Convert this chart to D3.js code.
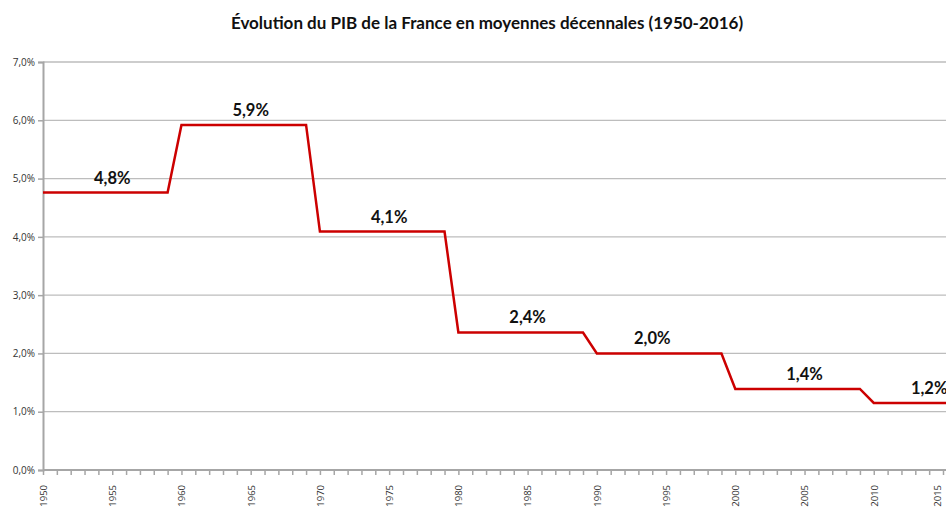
<!DOCTYPE html>
<html><head><meta charset="utf-8">
<script src="https://cdn.jsdelivr.net/npm/d3@7"></script>
<style>body{margin:0;background:#fff}svg{display:block}</style>
</head><body>
<script>
const title = "Évolution du PIB de la France en moyennes décennales (1950-2016)";
const decadeStarts = [1950, 1960, 1970, 1980, 1990, 2000, 2010];
const decadeEnds   = [1959, 1969, 1979, 1989, 1999, 2009, 2016];
const decadeValues = [4.76, 5.92, 4.09, 2.36, 2.00, 1.39, 1.15];
const labelTexts = ["4,8%", "5,9%", "4,1%", "2,4%", "2,0%", "1,4%", "1,2%"];
const labelYears = [1955, 1965, 1975, 1985, 1994, 2005, 2014];
const yTicks = [0, 1, 2, 3, 4, 5, 6, 7];
const xTickLabels = [1950, 1955, 1960, 1965, 1970, 1975, 1980, 1985, 1990, 1995, 2000, 2005, 2010, 2015];

// annual points: each year carries its decade average
const years = [], values = [];
decadeStarts.forEach((s, i) => { for (let y = s; y <= decadeEnds[i]; y++) { years.push(y); values.push(decadeValues[i]); } });

const W = 946, H = 509;
const svg = d3.select("body").append("svg").attr("width", W).attr("height", H);
const x = d3.scaleLinear().domain([1950, 2015]).range([43, 943]);
const y = d3.scaleLinear().domain([0, 7]).range([470, 62]);
const right = W;

svg.append("text").attr("x", 487).attr("y", 29).attr("text-anchor", "middle")
  .attr("font-family", "Lato, 'Open Sans', sans-serif").attr("font-weight", "bold").attr("font-size", 17)
  .attr("fill", "#111").text(title);

// gridlines
svg.append("g").selectAll("line").data(yTicks.filter(d => d > 0)).join("line")
  .attr("x1", x(1950)).attr("x2", right).attr("y1", d => y(d)).attr("y2", d => y(d))
  .attr("stroke", "#bdbdbd").attr("stroke-width", 1.3);

// y axis
const yAxis = svg.append("g").attr("transform", `translate(${x(1950)},0)`)
  .call(d3.axisLeft(y).tickValues(yTicks).tickSize(5).tickFormat(d => d3.format(".1f")(d).replace(".", ",") + "%"));
yAxis.select(".domain").attr("stroke", "#a6a6a6").attr("stroke-width", 2);
yAxis.selectAll(".tick line").attr("stroke", "#a6a6a6").attr("stroke-width", 1.5);
yAxis.selectAll(".tick text").attr("font-family", "'Open Sans', sans-serif").attr("font-size", 10)
  .attr("fill", "#333").attr("x", -8);

// x axis
const allYears = d3.range(1950, 2016);
const xAxis = svg.append("g").attr("transform", `translate(0,${y(0)})`)
  .call(d3.axisBottom(x).tickValues(allYears).tickSize(5).tickFormat(d => xTickLabels.includes(d) ? String(d) : ""));
xAxis.select(".domain").attr("stroke", "#a6a6a6").attr("stroke-width", 2).attr("d", `M${x(1950)},0H${right}`);
xAxis.selectAll(".tick line").attr("stroke", "#a6a6a6").attr("stroke-width", 1.5);
xAxis.selectAll(".tick text").attr("font-family", "'Open Sans', sans-serif").attr("font-size", 9.5)
  .attr("fill", "#333").attr("transform", "rotate(-90)").attr("text-anchor", "end")
  .attr("x", -15).attr("y", d => d === 2015 ? -6 : 0).attr("dy", "0.35em");

// line
svg.append("defs").append("clipPath").attr("id", "clip").append("rect")
  .attr("x", 0).attr("y", 0).attr("width", right).attr("height", H);
const line = d3.line().x((d, i) => x(years[i])).y(d => y(d));
svg.append("path").datum(values).attr("clip-path", "url(#clip)")
  .attr("d", line).attr("fill", "none").attr("stroke", "#cc0000").attr("stroke-width", 2.5)
  .attr("stroke-linejoin", "miter");

// labels
svg.append("g").selectAll("text").data(labelTexts).join("text")
  .attr("x", (d, i) => x(labelYears[i])).attr("y", (d, i) => y(decadeValues[i]) - 9)
  .attr("text-anchor", "middle").attr("font-family", "Lato, 'Open Sans', sans-serif")
  .attr("font-weight", "bold").attr("font-size", 16.5).attr("fill", "#111").text(d => d);
</script>
</body></html>
